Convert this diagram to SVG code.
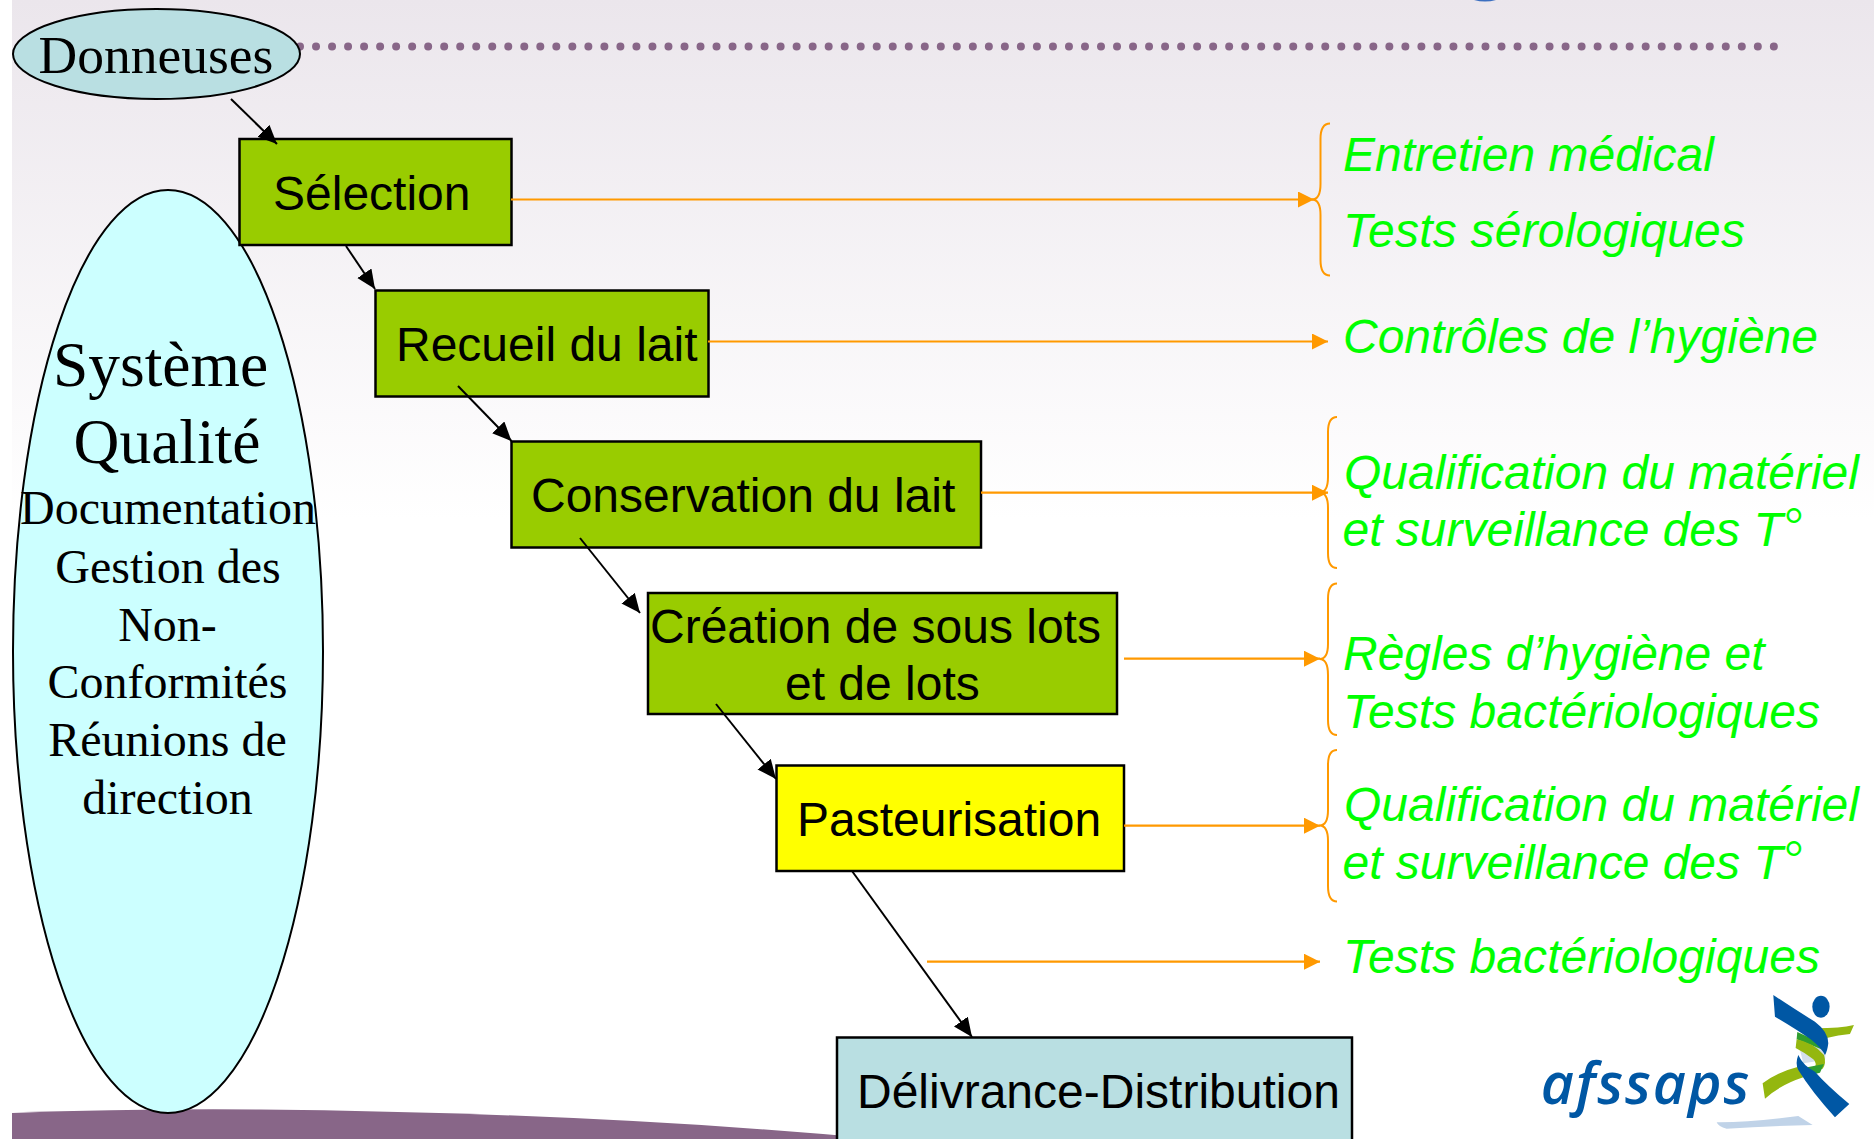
<svg xmlns="http://www.w3.org/2000/svg" width="1874" height="1139" viewBox="0 0 1874 1139">
<style>
.box{stroke:#000;stroke-width:2.5}
.g{fill:#99cc00}
.lbl{font-family:"Liberation Sans",Arial,sans-serif;font-size:48px;fill:#000}
.ser{font-family:"Liberation Serif","Times New Roman",serif;fill:#000}
.it{font-family:"Liberation Sans",Arial,sans-serif;font-size:48px;font-style:italic;fill:#00ff00}
.deg{font-family:"Liberation Serif","Times New Roman",serif}
.blk{fill:none;stroke:#000;stroke-width:2;marker-end:url(#ah)}
.org{fill:none;stroke:#ff9900;stroke-width:2.2;marker-end:url(#oh)}
.brace{fill:none;stroke:#ff9900;stroke-width:2}
</style>
<defs>
<linearGradient id="bg" x1="0" y1="0" x2="0" y2="1"><stop offset="0" stop-color="#ebe6ec"/><stop offset="1" stop-color="#ffffff"/></linearGradient>
<marker id="ah" markerUnits="userSpaceOnUse" markerWidth="21" markerHeight="18" refX="19" refY="8.5" orient="auto"><path d="M0 0L19 8.5L0 17Z" fill="#000"/></marker>
<marker id="oh" markerUnits="userSpaceOnUse" markerWidth="18" markerHeight="18" refX="16" refY="8" orient="auto"><path d="M0 0L16 8L0 16Z" fill="#ff9900"/></marker>
</defs>
<rect width="1874" height="1139" fill="#fff"/>
<g id="background">
<rect x="12" y="0" width="1862" height="520" fill="url(#bg)"/>
<path d="M12 1113Q130 1108.5 260 1109.5Q600 1113 880 1139L12 1139Z" fill="#886688"/>
<path d="M1474 0Q1485 3 1496 0Z" fill="#3b6fc0"/>
<path d="M300 46.5H1775" fill="none" stroke="#886688" stroke-width="8" stroke-linecap="round" stroke-dasharray="0 16.02"/>
</g>
<g id="systeme-qualite">
<ellipse cx="168" cy="651.5" rx="155" ry="461.5" fill="#ccffff" stroke="#000" stroke-width="2"/>
<text class="ser" x="160.5" y="386" text-anchor="middle" font-size="63.5">Système</text>
<text class="ser" x="167" y="463" text-anchor="middle" font-size="63.5">Qualité</text>
<g font-size="48" text-anchor="middle">
<text class="ser" x="168" y="524">Documentation</text>
<text class="ser" x="168" y="582.5">Gestion des</text>
<text class="ser" x="167.5" y="640.5">Non-</text>
<text class="ser" x="167.5" y="698">Conformités</text>
<text class="ser" x="167.5" y="755.5">Réunions de</text>
<text class="ser" x="167.5" y="813.5">direction</text>
</g>
</g>
<g id="donneuses">
<ellipse cx="156.5" cy="54" rx="143.5" ry="45" fill="#b9dfe2" stroke="#000" stroke-width="2"/>
<text class="ser" x="156" y="72.5" text-anchor="middle" font-size="53.5">Donneuses</text>
</g>
<g id="selection"><rect class="box g" x="239.5" y="139" width="272" height="106"/><text class="lbl" x="273" y="210">Sélection</text></g>
<g id="recueil"><rect class="box g" x="375.5" y="290.5" width="333" height="106"/><text class="lbl" x="396" y="361">Recueil du lait</text></g>
<g id="conservation"><rect class="box g" x="511.5" y="441.5" width="469.5" height="106"/><text class="lbl" x="531" y="512">Conservation du lait</text></g>
<g id="creation"><rect class="box g" x="648" y="593" width="469" height="121"/><text class="lbl" x="650" y="643">Création de sous lots</text><text class="lbl" x="785" y="700">et de lots</text></g>
<g id="pasteurisation"><rect class="box" fill="#ffff00" x="776.5" y="765.5" width="347.5" height="105.5"/><text class="lbl" x="797" y="836">Pasteurisation</text></g>
<g id="delivrance"><rect class="box" fill="#b9dfe2" x="837" y="1037.5" width="515" height="110"/><text class="lbl" x="857" y="1108">Délivrance-Distribution</text></g>
<g id="connectors">
<path class="blk" d="M231 99L277 144"/>
<path class="blk" d="M346 246L375 289"/>
<path class="blk" d="M458 386L511.5 441"/>
<path class="blk" d="M580 538L640 613"/>
<path class="blk" d="M716 704L776 779"/>
<path class="blk" d="M852 871L972 1037"/>
<path class="org" d="M511 199.5H1314"/>
<path class="org" d="M708 341.5H1328"/>
<path class="org" d="M981 492.7H1328"/>
<path class="org" d="M1124 658.7H1320"/>
<path class="org" d="M1124 825.7H1320"/>
<path class="org" d="M927 961.7H1320"/>
<path class="brace" d="M1330 123.5Q1320.5 123.5 1320.5 139V184Q1320.5 199.5 1312 199.5Q1320.5 199.5 1320.5 215V260Q1320.5 275.5 1330 275.5"/>
<path class="brace" d="M1337 417Q1328 417 1328 432V477Q1328 492.5 1319.5 492.5Q1328 492.5 1328 508V553Q1328 568 1337 568"/>
<path class="brace" d="M1337 583.5Q1328 583.5 1328 599V644Q1328 659 1319.5 659Q1328 659 1328 675V720Q1328 735 1337 735"/>
<path class="brace" d="M1337 750Q1328 750 1328 765V810Q1328 825.5 1319.5 825.5Q1328 825.5 1328 841V886Q1328 901.5 1337 901.5"/>
</g>
<g id="annotations">
<text class="it" x="1343" y="171">Entretien médical</text>
<text class="it" x="1343" y="246.5" textLength="402">Tests sérologiques</text>
<text class="it" x="1343" y="353">Contrôles de l’hygiène</text>
<text class="it" x="1344" y="489">Qualification du matériel</text>
<text class="it" x="1342.5" y="546">et surveillance des T<tspan class="deg" dy="-5">°</tspan></text>
<text class="it" x="1343" y="670">Règles d’hygiène et</text>
<text class="it" x="1343" y="728" textLength="477">Tests bactériologiques</text>
<text class="it" x="1344" y="821">Qualification du matériel</text>
<text class="it" x="1342.5" y="879">et surveillance des T<tspan class="deg" dy="-5">°</tspan></text>
<text class="it" x="1343" y="973" textLength="477">Tests bactériologiques</text>
</g>
<g id="logo" transform="translate(1450 960) scale(.3333)">
<rect x="260" y="90" width="970" height="430" fill="#fff"/>
<path d="M800 487Q900 488 1045 468L1088 495Q950 498 830 506Q805 500 800 487Z" fill="#c0d3e8"/>
<path d="M1100 205Q1170 205 1212 195L1200 222Q1165 225 1130 234Z" fill="#94b70f"/>
<path d="M938 370Q985 335 1045 320L1060 352Q990 375 945 416Z" fill="#94b70f"/>
<path d="M1050 270L1130 250L1125 300L1060 310Z" fill="#d4dfea"/>
<path d="M1042 216L1095 240L1120 270L1040 238Z" fill="#2f9e2f"/>
<path d="M1040 238Q1090 248 1122 285Q1130 310 1118 326L1090 332Q1105 310 1090 298Q1065 278 1037 264Z" fill="#94b70f"/>
<path d="M1072 322L1122 312L1110 338L1095 342Z" fill="#2f9e2f"/>
<path d="M970 105Q1045 155 1095 185Q1135 215 1135 250Q1132 275 1125 285Q1115 265 1085 240Q1040 208 975 170Z" fill="#0057a4"/>
<path d="M1045 285Q1035 310 1045 330Q1085 395 1155 472L1198 432Q1130 375 1095 335Q1060 318 1045 285Z" fill="#0057a4"/>
<ellipse cx="1113" cy="140" rx="26" ry="33" fill="#0057a4"/>
<text x="272" y="432" font-family="'Open Sans',sans-serif" font-style="italic" font-weight="600" font-size="172" fill="#0057a4" textLength="626" lengthAdjust="spacing">afssaps</text>
</g>
</svg>
